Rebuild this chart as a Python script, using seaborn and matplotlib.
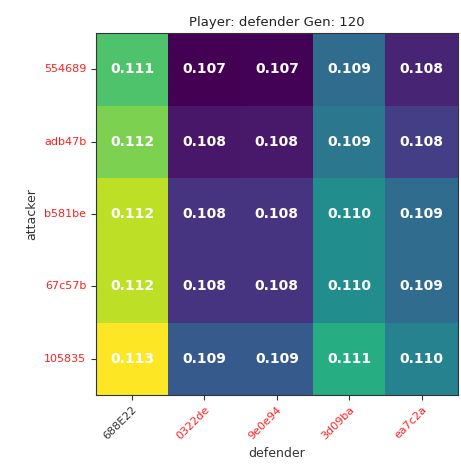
import numpy as np
import pandas as pd
import matplotlib
matplotlib.use("Agg")
import matplotlib.pyplot as plt
import seaborn as sns

attackers = ["554689", "adb47b", "b581be", "67c57b", "105835"]
defenders = ["688E22", "0322de", "9e0e94", "3d09ba", "ea7c2a"]

row_554689 = [0.11112, 0.10745, 0.10747, 0.10924, 0.10796]
row_adb47b = [0.11155, 0.10776, 0.10778, 0.10948, 0.10837]
row_b581be = [0.11205, 0.10822, 0.10822, 0.10995, 0.10924]
row_67c57b = [0.11205, 0.10822, 0.10822, 0.10995, 0.10924]
row_105835 = [0.11255, 0.10888, 0.10888, 0.11061, 0.10969]

title_text = "Player: defender Gen: 120"
highlight_defender = "688E22"

df = pd.DataFrame([row_554689, row_adb47b, row_b581be, row_67c57b, row_105835],
                  index=attackers, columns=defenders)

fig = plt.figure(figsize=(4.61, 4.68), dpi=100)
ax = fig.add_axes([0.208, 0.156, 0.785, 0.773])

sns.heatmap(df, ax=ax, cmap="viridis", cbar=False, annot=True, fmt=".3f",
            annot_kws={"color": "white", "fontweight": "bold", "fontsize": 10},
            square=False)

for s in ax.spines.values():
    s.set_visible(True)
    s.set_color("#333333")
    s.set_linewidth(0.8)

ax.tick_params(axis="both", length=3.5, width=0.8, labelsize=8, color="#333333")
ax.set_yticklabels(attackers, rotation=0)
ax.set_xticklabels(defenders, rotation=45, ha="right", rotation_mode="anchor")
for lbl in ax.get_yticklabels():
    lbl.set_color("#ff2020")
for lbl in ax.get_xticklabels():
    lbl.set_color("#333333" if lbl.get_text() == highlight_defender else "#ff2020")

ax.set_xlabel("defender", fontsize=9, color="#333333")
ax.set_ylabel("attacker", fontsize=9, color="#333333")
ax.set_title(title_text, fontsize=9.5, color="#222222", pad=5)

fig.savefig("out.png", dpi=100)
